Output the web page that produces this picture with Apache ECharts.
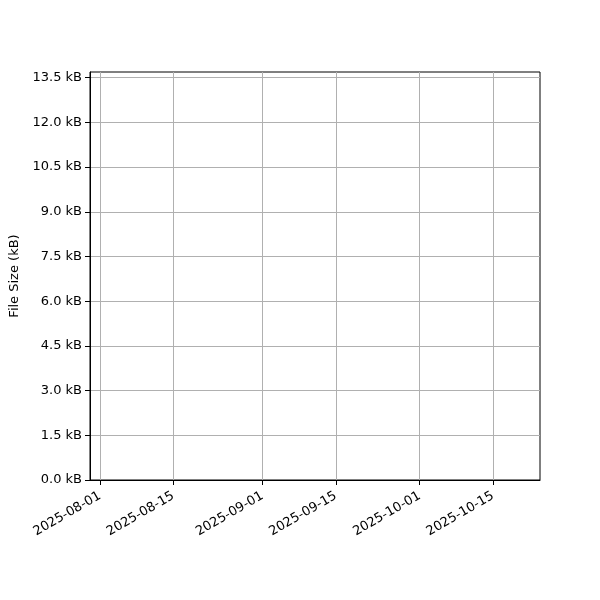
<!DOCTYPE html>
<html>
<head>
<meta charset="utf-8">
<script src="https://cdn.jsdelivr.net/npm/echarts@6/dist/echarts.min.js"></script>
<style>
	html, body { margin: 0; padding: 0; background: #fff; }
	#chart { width: 600px; height: 600px; }
</style>
</head>
<body>
<div id="chart"></div>
<script>
// tick labels on the date axis
var dateTicks = ['2025-08-01', '2025-08-15', '2025-09-01', '2025-09-15', '2025-10-01', '2025-10-15']
// tick values on the size axis (kB)
var sizeTicks = [0, 1.5, 3.0, 4.5, 6.0, 7.5, 9.0, 10.5, 12.0, 13.5]
// visible range of both axes
var dateRange = ['2025-07-30T02:24:00', '2025-10-23T23:17:00']
var sizeRange = [0, 13.69]
// file sizes over time: nothing is plotted in the picture
var sizeSeries = []

function ts(s) {
	return new Date(s.length === 10 ? s + 'T00:00:00' : s).getTime()
}

var font = 'DejaVu Sans'
var myChart = echarts.init(document.getElementById('chart'))
var option = {
	animation: false,
	textStyle: { fontFamily: font },
	grid: {
		left: 90,
		right: 60,
		top: 72,
		bottom: 120,
		show: true,
		borderColor: '#000',
		borderWidth: 1,
		backgroundColor: '#fff'
	},
	xAxis: {
		type: 'time',
		min: ts(dateRange[0]),
		max: ts(dateRange[1]),
		axisLine: { show: true, lineStyle: { color: '#000', width: 1 } },
		axisTick: {
			show: true,
			length: 5,
			lineStyle: { color: '#000' },
			customValues: dateTicks.map(ts)
		},
		axisLabel: {
			customValues: dateTicks.map(ts),
			formatter: '{yyyy}-{MM}-{dd}',
			rotate: 30,
			margin: 15,
			color: '#000',
			fontSize: 13,
			fontFamily: font,
			hideOverlap: false
		},
		splitLine: { show: true, lineStyle: { color: '#b0b0b0', width: 1 } }
	},
	yAxis: {
		type: 'value',
		min: sizeRange[0],
		max: sizeRange[1],
		name: 'File Size (kB)',
		nameLocation: 'middle',
		nameGap: 66,
		nameTextStyle: { color: '#000', fontSize: 13, fontFamily: font },
		axisLine: { show: true, lineStyle: { color: '#000', width: 1 } },
		axisTick: {
			show: true,
			length: 5,
			lineStyle: { color: '#000' },
			customValues: sizeTicks
		},
		axisLabel: {
			customValues: sizeTicks,
			formatter: function (v) { return v.toFixed(1) + ' kB' },
			margin: 8,
			color: '#000',
			fontSize: 13,
			fontFamily: font
		},
		splitLine: { show: true, lineStyle: { color: '#b0b0b0', width: 1 } }
	},
	series: [{
		type: 'line',
		name: 'File Size',
		data: sizeSeries,
		showSymbol: false
	}]
}
myChart.setOption(option)
</script>
</body>
</html>
